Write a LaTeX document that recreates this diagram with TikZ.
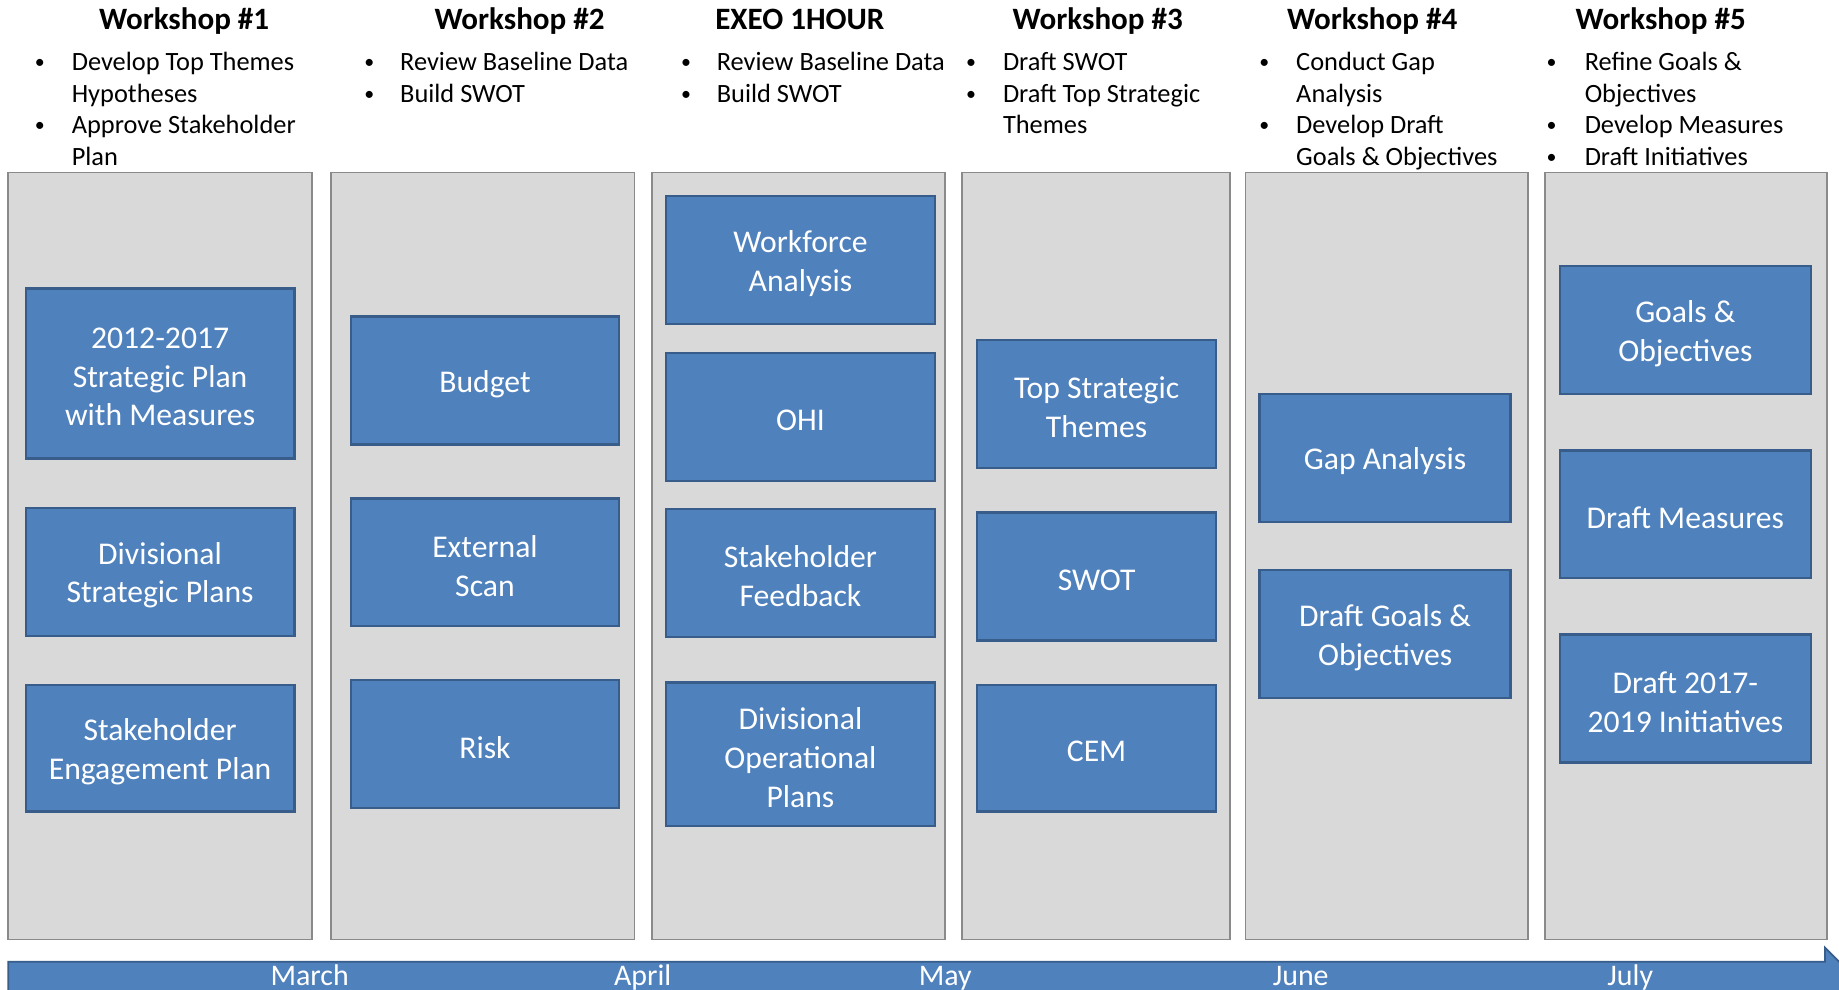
\documentclass[tikz,border=0pt]{standalone}
\usepackage{fontspec}
\setmainfont{Carlito}
\begin{document}
\definecolor{panelfill}{HTML}{D9D9D9}
\definecolor{panelline}{HTML}{8A8A8A}
\definecolor{stepfill}{HTML}{4F81BD}
\definecolor{stepline}{HTML}{385D8A}
\tikzset{
  panel/.style={draw=panelline, fill=panelfill, line width=1.5pt, inner sep=0pt},
  stepbox/.style={draw=stepline, fill=stepfill, line width=2pt, inner sep=0pt},
  steptext/.style={text=white, align=center, font=\fontsize{27}{33}\selectfont, inner sep=0pt},
  heading/.style={font=\fontsize{26.5}{32}\selectfont\bfseries, anchor=base, inner sep=0pt},
  listtext/.style={font=\fontsize{22.5}{27}\selectfont, anchor=base west, inner sep=0pt},
  listdot/.style={font=\fontsize{17}{20}\selectfont, anchor=base, inner sep=0pt},
  month/.style={font=\fontsize{25.5}{30}\selectfont, text=white, anchor=base, inner sep=0pt}
}
% panel: name, x1, y1, x2, y2
\newcommand\wspanel[5]{\node[panel, minimum width=#4-#2, minimum height=#5-#3] (#1) at ({(#2+#4)/2},{(#3+#5)/2}) {};}
% activity box: name, x1, y1, x2, y2, text
\newcommand\wsstep[6]{%
  \node[stepbox, minimum width=#4-#2, minimum height=#5-#3] (#1) at ({(#2+#4)/2},{(#3+#5)/2}) {};
  \node[steptext, yshift=-3pt] (#1-t) at (#1.center) {#6};}
% list entries
\newcommand\wsdot[3]{\node[listdot] (#1) at (#2,#3-1.5) {•};}
\newcommand\wsline[4]{\node[listtext] (#1) at (#2,#3) {#4};}
\begin{tikzpicture}[x=1pt, y=-1pt]
\useasboundingbox (0,0) rectangle (1568,844);
\clip (0,0) rectangle (1568,844);

% headings
\node[heading] (h1) at (157,25) {Workshop \#1};
\node[heading] (h2) at (443,25) {Workshop \#2};
\node[heading] (h3) at (682,25) {EXEO 1HOUR};
\node[heading] (h4) at (936,25) {Workshop \#3};
\node[heading] (h5) at (1170,25) {Workshop \#4};
\node[heading] (h6) at (1416,25) {Workshop \#5};

% agenda lists
\wsdot{d11}{34}{60}  \wsline{t11}{61}{60}{Develop Top Themes}
                     \wsline{t12}{61}{87}{Hypotheses}
\wsdot{d13}{34}{114} \wsline{t13}{61}{114}{Approve Stakeholder}
                     \wsline{t14}{61}{141}{Plan}

\wsdot{d21}{315}{60} \wsline{t21}{341}{60}{Review Baseline Data}
\wsdot{d22}{315}{87} \wsline{t22}{341}{87}{Build SWOT}

\wsdot{d31}{585}{60} \wsline{t31}{611}{60}{Review Baseline Data}
\wsdot{d32}{585}{87} \wsline{t32}{611}{87}{Build SWOT}

\wsdot{d41}{828}{60} \wsline{t41}{855}{60}{Draft SWOT}
\wsdot{d42}{828}{87} \wsline{t42}{855}{87}{Draft Top Strategic}
                     \wsline{t43}{855}{114}{Themes}

\wsdot{d51}{1078}{60}  \wsline{t51}{1105}{60}{Conduct Gap}
                       \wsline{t52}{1105}{87}{Analysis}
\wsdot{d53}{1078}{114} \wsline{t53}{1105}{114}{Develop Draft}
                       \wsline{t54}{1105}{141}{Goals \& Objectives}

\wsdot{d61}{1323}{60}  \wsline{t61}{1351}{60}{Refine Goals \&}
                       \wsline{t62}{1351}{87}{Objectives}
\wsdot{d63}{1323}{114} \wsline{t63}{1351}{114}{Develop Measures}
\wsdot{d64}{1323}{141} \wsline{t64}{1351}{141}{Draft Initiatives}

% workshop panels
\wspanel{p1}{7}{147}{266}{801}
\wspanel{p2}{282}{147}{541}{801}
\wspanel{p3}{556}{147}{806}{801}
\wspanel{p4}{820}{147}{1049}{801}
\wspanel{p5}{1062}{147}{1303}{801}
\wspanel{p6}{1317}{147}{1558}{801}

% activities
\wsstep{a11}{22}{246}{251}{391}{2012-2017\\Strategic Plan\\with Measures}
\wsstep{a12}{22}{433}{251}{542}{Divisional\\Strategic Plans}
\wsstep{a13}{22}{584}{251}{692}{Stakeholder\\Engagement Plan}

\wsstep{a21}{299}{270}{528}{379}{Budget}
\wsstep{a22}{299}{425}{528}{534}{External\\Scan}
\wsstep{a23}{299}{580}{528}{689}{Risk}

\wsstep{a31}{568}{167}{797}{276}{Workforce\\Analysis}
\wsstep{a32}{568}{301}{797}{410}{OHI}
\wsstep{a33}{568}{434}{797}{543}{Stakeholder\\Feedback}
\wsstep{a34}{568}{582}{797}{704}{Divisional\\Operational\\Plans}

\wsstep{a41}{833}{290}{1037}{399}{Top Strategic\\Themes}
\wsstep{a42}{833}{437}{1037}{546}{SWOT}
\wsstep{a43}{833}{584}{1037}{692}{CEM}

\wsstep{a51}{1074}{336}{1288}{445}{Gap Analysis}
\wsstep{a52}{1074}{486}{1288}{595}{Draft Goals \&\\Objectives}

\wsstep{a61}{1330}{227}{1544}{336}{Goals \&\\Objectives}
\wsstep{a62}{1330}{384}{1544}{493}{Draft Measures}
\wsstep{a63}{1330}{541}{1544}{650}{Draft 2017-\\2019 Initiatives}

% timeline arrow
\draw[draw=stepline, fill=stepfill, line width=1.5pt, line join=miter]
  (7,820) -- (1556,820) -- (1556,808) -- (1581,833) -- (1556,858) -- (1556,846) -- (7,846) -- cycle;
\node[month] (m1) at (264,840) {March};
\node[month] (m2) at (548,840) {April};
\node[month] (m3) at (806,840) {May};
\node[month] (m4) at (1109,840) {June};
\node[month] (m5) at (1390,840) {July};
\end{tikzpicture}
\end{document}
